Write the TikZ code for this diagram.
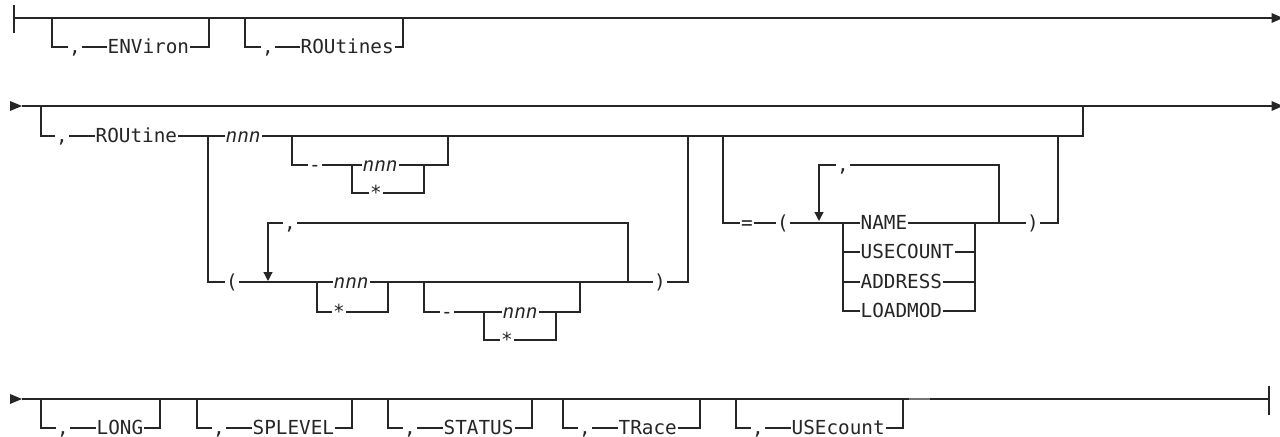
\documentclass[tikz,border=0pt]{standalone}
\usepackage{fontspec}
\newfontfamily\railfont{DejaVu Sans Mono}
\usetikzlibrary{arrows.meta}
\begin{document}
\begin{tikzpicture}[x=0.2mm,y=-0.2mm,line width=0.7pt,color=black!85,
		kw/.style={font=\railfont\fontsize{11}{13}\selectfont,fill=white,inner xsep=0.6pt,inner ysep=0pt,text height=7.6pt,text depth=0pt,anchor=west},
		var/.style={kw,font=\railfont\itshape\fontsize{11}{13}\selectfont},
		sym/.style={kw,anchor=center,minimum width=2.3mm},
		tip/.style={-{Triangle[length=6.5pt,width=5.5pt]}},
		back/.style={-{Triangle[length=5pt,width=5pt]}}]
		\useasboundingbox (0,0) rectangle (1280,437);
		% first line
		\draw (14,5)--(14,33);
		\draw[tip] (14,18)--(1283,18);
		\draw[line width=1.1pt] (22,18)--(28,18);
		\foreach \l/\r/\w in {52/209/ENViron,245/403/ROUtines}{
			\draw (\l,18)--(\l,47)--(\r,47)--(\r,18);
			\node[sym] (c\w) at (\l+23,47) {,};
			\node[kw] (k\w) at (\l+54,47) {\w};
		}
		% second line
		\fill (10,101)--(22,106)--(10,111)--cycle;
		\draw[tip] (22,106)--(1283,106);
		\draw (41,106)--(41,136)--(1083,136)--(1083,106);
		\node[sym] (cRtn) at (62,136) {,};
		\node[kw] (kRtn) at (94,136) {ROUtine};
		\draw (208,136)--(208,282)--(688,282)--(688,136);
		\node[var] (n1) at (224,136) {nnn};
		\draw (292,136)--(292,165)--(448,165)--(448,136) (352,165)--(352,193)--(424,193)--(424,165);
		\node[sym] (h1) at (315,165) {-};
		\node[var] (n2) at (361,165) {nnn};
		\node[sym] (s1) at (376,193) {*};
		\draw[back] (628,282)--(628,223)--(268,223)--(268,281);
		\node[sym] (lp1) at (232,282) {(};
		\node[sym] (c4) at (290,223) {,};
		\draw (317,282)--(317,312)--(388,312)--(388,282);
		\node[var] (n3) at (332,282) {nnn};
		\node[sym] (s2) at (339,312) {*};
		\draw (424,282)--(424,312)--(580,312)--(580,282) (484,312)--(484,340)--(556,340)--(556,312);
		\node[sym] (h2) at (447,312) {-};
		\node[var] (n4) at (501,312) {nnn};
		\node[sym] (s3) at (507,340) {*};
		\node[sym] (rp1) at (660,282) {)};
		\draw (723,136)--(723,223)--(1058,223)--(1058,136);
		\node[sym] (eq) at (747,223) {=};
		\node[sym] (lp2) at (783,223) {(};
		\draw[back] (999,223)--(999,165)--(819,165)--(819,221);
		\node[sym] (c5) at (843,165) {,};
		\draw (843,223)--(843,311)--(975,311)--(975,223) (843,252)--(975,252) (843,282)--(975,282);
		\foreach \y/\w in {223/NAME,252/USECOUNT,282/ADDRESS,311/LOADMOD}
			\node[kw] (k\w) at (859,\y) {\w};
		\node[sym] (rp2) at (1033,223) {)};
		% third line
		\fill (10,394)--(22,399)--(10,404)--cycle;
		\draw (22,399)--(1269,399) (1269,386)--(1269,415);
		\draw[line width=1.1pt,black!55] (909,399)--(930,399);
		\foreach \l/\r/\w in {41/160/LONG,197/352/SPLEVEL,388/532/STATUS,563/700/TRace,736/903/USEcount}{
			\draw (\l,399)--(\l,428)--(\r,428)--(\r,399);
			\node[sym] (c\w) at (\l+22,428) {,};
			\node[kw] (k\w) at (\l+54,428) {\w};
		}
\end{tikzpicture}
\end{document}
